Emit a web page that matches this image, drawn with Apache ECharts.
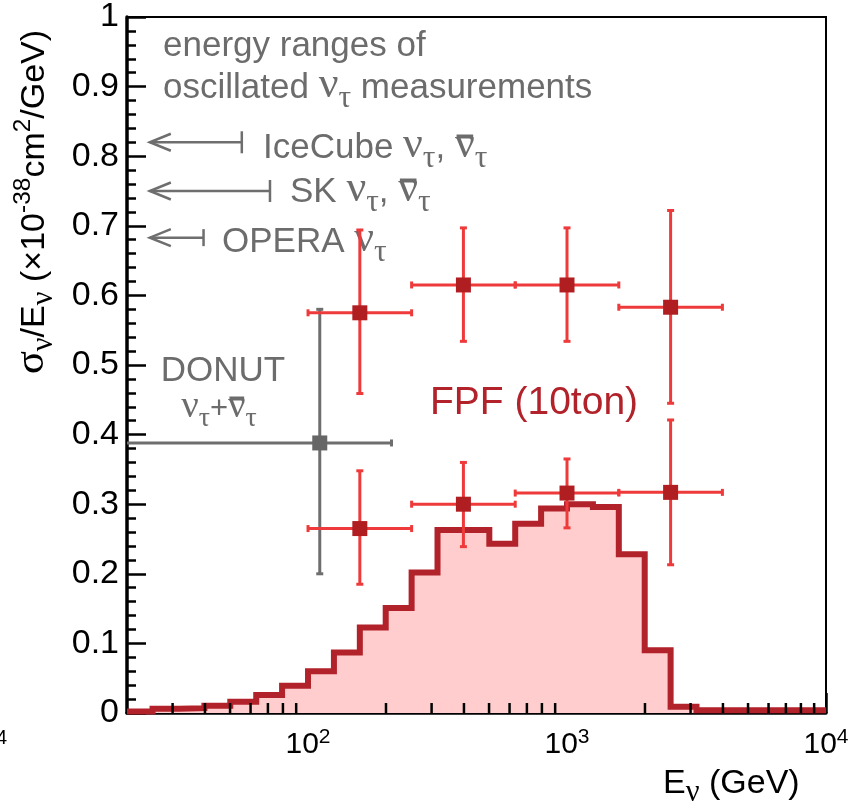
<!DOCTYPE html>
<html>
<head>
<meta charset="utf-8">
<script src="https://cdn.jsdelivr.net/npm/echarts@6/dist/echarts.min.js"></script>
<style>
  html, body { margin: 0; padding: 0; background: #fff; }
  #chart { width: 854px; height: 811px; }
</style>
</head>
<body>
<div id="chart"></div>
<script>
// ---- data -------------------------------------------------------------
// FPF 1mx1m nu_tau spectrum (arbitrary units), log-spaced bins (0.1 decade)
const specEdges = [20, 25.1, 31.6, 39.8, 50.1, 63.1, 79.4, 100, 125.9, 158.5, 199.5,
  251.2, 316.2, 398.1, 501.2, 631.0, 794.3, 1000, 1258.9, 1584.9, 1995.3, 2511.9,
  3162.3, 3981.1, 5011.9, 6309.6, 7943.3, 10000];
const specValues = [0.002, 0.006, 0.007, 0.0105, 0.016, 0.026, 0.039, 0.060, 0.087,
  0.123, 0.151, 0.202, 0.263, 0.263, 0.243, 0.272, 0.294, 0.300, 0.296, 0.228,
  0.090, 0.009, 0.004, 0.004, 0.004, 0.004, 0.004];

// FPF (10ton) projected measurements: energy bin centre, bin low/high edge
const fpfE    = [158.5, 398.1, 1000, 2511.9];
const fpfElo  = [100, 251.2, 631.0, 1584.9];
const fpfEhi  = [251.2, 631.0, 1584.9, 3981.1];
// upper set
const fpfUpVal = [0.575, 0.615, 0.615, 0.583];
const fpfUpLo  = [0.459, 0.534, 0.534, 0.445];
const fpfUpHi  = [0.694, 0.697, 0.697, 0.722];
// lower set
const fpfLoVal = [0.265, 0.300, 0.316, 0.317];
const fpfLoLo  = [0.185, 0.239, 0.266, 0.213];
const fpfLoHi  = [0.348, 0.360, 0.365, 0.421];

// DONUT nu_tau + anti-nu_tau
const donutE = [111];
const donutElo = [20];
const donutEhi = [210];
const donutVal = [0.388];
const donutLo = [0.200];
const donutHi = [0.580];

// energy reach of oscillated nu_tau measurements (arrow tip, arrow end, height)
const rangeNames = ['IceCube', 'SK', 'OPERA'];
const rangeTip = [24.5, 24.5, 24.5];
const rangeEnd = [55.5, 71.3, 39.5];
const rangeY   = [0.820, 0.750, 0.683];

// axis ticks
const xMinorTicks = [30, 40, 50, 60, 70, 80, 90, 200, 300, 400, 500, 600, 700, 800, 900,
  2000, 3000, 4000, 5000, 6000, 7000, 8000, 9000];

// ---- styling ----------------------------------------------------------
const SANS = "'Liberation Sans', Arial, Helvetica, sans-serif";
const GREEK = "'Liberation Serif', 'Times New Roman', serif";
const GREEK_SCALE = 1.25;
const GRAY = '#6c6c6c';
const DARKRED = '#b1222a';
const BARRED = '#ee3a3a';
const MARKRED = '#b01e22';

const measureCtx = document.createElement('canvas').getContext('2d');
function textWidth(t, size, fam) {
  measureCtx.font = size + 'px ' + fam;
  return measureCtx.measureText(t).width;
}

// Lays out a line of text pieces (normal / subscript / superscript / overbar)
// around a baseline at (x, y); returns a graphic group.
function textLine(x, y, segs, size, color, opts) {
  opts = opts || {};
  const children = [];
  let cx = 0;
  segs.forEach(function (s) {
    if (typeof s === 'string') s = { t: s };
    const small = s.sub || s.sup;
    let fs = small ? size * (opts.scriptScale || 0.72) : size;
    if (s.g) fs *= GREEK_SCALE;
    const fam = s.g ? GREEK : SANS;
    const dy = s.sub ? size * 0.26 : (s.sup ? -size * 0.42 : 0);
    const w = textWidth(s.t, fs, fam);
    children.push({
      type: 'text',
      x: cx, y: dy - fs * 0.34,
      style: {
        text: s.t, fill: color, font: fs + 'px ' + fam,
        textAlign: 'left', textVerticalAlign: 'middle'
      }
    });
    if (s.bar) {
      children.push({
        type: 'rect',
        shape: { x: cx + w * 0.08, y: -size * 0.5 - 8, width: w * 0.84, height: 4 },
        style: { fill: color }
      });
    }
    cx += w + (s.gap || 0);
  });
  const shift = opts.align === 'center' ? -cx / 2 : 0;
  children.forEach(function (c) {
    if (c.type === 'text') c.x += shift; else c.shape.x += shift;
  });
  return {
    type: 'group', x: x, y: y, rotation: opts.rotation || 0,
    z: 100, children: children
  };
}

// ---- series data ------------------------------------------------------
const specData = specEdges.map(function (e, i) {
  return [e, i < specValues.length ? specValues[i] : specValues[specValues.length - 1]];
});
const fpfUpData = fpfE.map(function (e, i) { return [e, fpfElo[i], fpfEhi[i], fpfUpVal[i], fpfUpLo[i], fpfUpHi[i]]; });
const fpfLowData = fpfE.map(function (e, i) { return [e, fpfElo[i], fpfEhi[i], fpfLoVal[i], fpfLoLo[i], fpfLoHi[i]]; });
const donutData = donutE.map(function (e, i) { return [e, donutElo[i], donutEhi[i], donutVal[i], donutLo[i], donutHi[i]]; });
const rangeData = rangeNames.map(function (n, i) { return [rangeTip[i], rangeEnd[i], rangeY[i]]; });

function errorBarRenderer(lineColor, markColor, leftCap) {
  return function (params, api) {
    const c = api.coord([api.value(0), api.value(3)]);
    const xl = api.coord([api.value(1), api.value(3)])[0];
    const xh = api.coord([api.value(2), api.value(3)])[0];
    const yl = api.coord([api.value(0), api.value(4)])[1];
    const yh = api.coord([api.value(0), api.value(5)])[1];
    const ls = { stroke: lineColor, lineWidth: 3 };
    const cap = 3.5;
    const kids = [
      { type: 'line', shape: { x1: xl, y1: c[1], x2: xh, y2: c[1] }, style: ls },
      { type: 'line', shape: { x1: c[0], y1: yl, x2: c[0], y2: yh }, style: ls },
      { type: 'line', shape: { x1: xh, y1: c[1] - cap, x2: xh, y2: c[1] + cap }, style: ls },
      { type: 'line', shape: { x1: c[0] - cap, y1: yl, x2: c[0] + cap, y2: yl }, style: ls },
      { type: 'line', shape: { x1: c[0] - cap, y1: yh, x2: c[0] + cap, y2: yh }, style: ls },
      { type: 'rect', shape: { x: c[0] - 7.5, y: c[1] - 7.5, width: 15, height: 15 }, style: { fill: markColor } }
    ];
    if (leftCap) {
      kids.push({ type: 'line', shape: { x1: xl, y1: c[1] - cap, x2: xl, y2: c[1] + cap }, style: ls });
    }
    return { type: 'group', children: kids };
  };
}

const arrowBarHalf = [11, 11, 8.5];

const chart = echarts.init(document.getElementById('chart'), null, { renderer: 'canvas' });

const option = {
  animation: false,
  backgroundColor: '#fff',
  grid: {
    left: 127, right: 28, top: 17, bottom: 98,
    show: true, borderColor: '#000', borderWidth: 2, backgroundColor: 'transparent'
  },
  xAxis: {
    type: 'log', logBase: 10, min: 20, max: 10000,
    axisLine: { lineStyle: { color: '#000', width: 3.5 } },
    axisTick: { inside: true, length: 20, lineStyle: { color: '#000', width: 2.5 } },
    splitLine: { show: false },
    axisLabel: {
      showMinLabel: false,
      margin: 14,
      formatter: function (v) {
        return '{b|10}{s|' + Math.round(Math.log10(v)) + '}';
      },
      rich: {
        b: { fontFamily: SANS, fontSize: 30, color: '#000', lineHeight: 36 },
        s: { fontFamily: SANS, fontSize: 21, color: '#000', verticalAlign: 'top', lineHeight: 21 }
      }
    }
  },
  yAxis: {
    type: 'value', min: 0, max: 1, interval: 0.1,
    axisLine: { show: true, lineStyle: { color: '#000', width: 3.5 } },
    axisTick: { show: true, inside: true, length: 19, lineStyle: { color: '#000', width: 2.5 } },
    minorTick: { show: true, splitNumber: 5, length: 9, lineStyle: { color: '#000', width: 2.5 } },
    splitLine: { show: false },
    minorSplitLine: { show: false },
    axisLabel: { fontFamily: SANS, fontSize: 34, color: '#000', margin: 8 }
  },
  series: [
    {
      name: 'FPF 1mx1m spectrum',
      type: 'line', step: 'end', data: specData, symbol: 'none', z: 2,
      lineStyle: { color: DARKRED, width: 6, join: 'miter' },
      areaStyle: { color: '#ffcdcd', opacity: 1, origin: 'start' }
    },
    {
      name: 'x minor ticks',
      type: 'custom', data: xMinorTicks.map(function (v) { return [v, 0]; }), z: 5,
      encode: { x: 0, y: 1 }, silent: true,
      renderItem: function (params, api) {
        const p = api.coord([api.value(0), 0]);
        return { type: 'line', shape: { x1: p[0], y1: p[1], x2: p[0], y2: p[1] - 10 },
          style: { stroke: '#000', lineWidth: 2.5 } };
      }
    },
    {
      name: 'DONUT',
      type: 'custom', data: donutData, z: 6, clip: true,
      encode: { x: [0, 1, 2], y: [3, 4, 5] },
      renderItem: errorBarRenderer('#6e6e6e', '#666666', false)
    },
    {
      name: 'FPF (10ton) upper',
      type: 'custom', data: fpfUpData, z: 7,
      encode: { x: [0, 1, 2], y: [3, 4, 5] },
      renderItem: errorBarRenderer(BARRED, MARKRED, true)
    },
    {
      name: 'FPF (10ton) lower',
      type: 'custom', data: fpfLowData, z: 7,
      encode: { x: [0, 1, 2], y: [3, 4, 5] },
      renderItem: errorBarRenderer(BARRED, MARKRED, true)
    },
    {
      name: 'oscillation ranges',
      type: 'custom', data: rangeData, z: 6,
      encode: { x: [0, 1], y: 2 },
      renderItem: function (params, api) {
        const tip = api.coord([api.value(0), api.value(2)]);
        const end = api.coord([api.value(1), api.value(2)]);
        const h = arrowBarHalf[params.dataIndex];
        const ls = { stroke: '#6e6e6e', lineWidth: 2.5, fill: null };
        return {
          type: 'group', children: [
            { type: 'line', shape: { x1: tip[0], y1: tip[1], x2: end[0], y2: end[1] }, style: ls },
            { type: 'polyline', shape: { points: [[tip[0] + 21, tip[1] - 8.5], [tip[0], tip[1]], [tip[0] + 21, tip[1] + 8.5]] }, style: ls },
            { type: 'line', shape: { x1: end[0], y1: end[1] - h, x2: end[0], y2: end[1] + h }, style: ls }
          ]
        };
      }
    }
  ],
  graphic: {
    elements: [
      textLine(163, 58, ['energy ranges of'], 35, GRAY),
      textLine(163, 100, ['oscillated ', { t: 'ν', g: true }, { t: 'τ', g: true, sub: true }, ' measurements'], 35, GRAY),
      textLine(263, 160, ['IceCube ', { t: 'ν', g: true }, { t: 'τ', g: true, sub: true }, ', ',
        { t: 'ν', g: true, bar: true }, { t: 'τ', g: true, sub: true }], 35, GRAY),
      textLine(290, 204, ['SK ', { t: 'ν', g: true }, { t: 'τ', g: true, sub: true }, ', ',
        { t: 'ν', g: true, bar: true }, { t: 'τ', g: true, sub: true }], 35, GRAY),
      textLine(222, 254, ['OPERA ', { t: 'ν', g: true }, { t: 'τ', g: true, sub: true }], 35, GRAY),
      textLine(223, 383, ['DONUT'], 35, GRAY, { align: 'center' }),
      textLine(219, 420, [{ t: 'ν', g: true }, { t: 'τ', g: true, sub: true }, '+',
        { t: 'ν', g: true, bar: true }, { t: 'τ', g: true, sub: true }], 31, GRAY, { align: 'center' }),
      textLine(430, 417, ['FPF (10ton)'], 39, DARKRED),
      textLine(413, 645, ['FPF 1mx1m'], 35, DARKRED),
      textLine(387, 680, [{ t: 'ν', g: true }, { t: 'τ', g: true, sub: true }, ' spectrum (a.u.)'], 35, DARKRED),
      textLine(663, 795, ['E', { t: 'ν', g: true, sub: true }, ' (GeV)'], 34, '#000'),
      textLine(46, 202, [{ t: 'σ', g: true }, { t: 'ν', g: true, sub: true }, '/E', { t: 'ν', g: true, sub: true },
        ' (×10', { t: '-38', sup: true }, 'cm', { t: '2', sup: true }, '/GeV)'], 34, '#000',
        { align: 'center', rotation: Math.PI / 2 }),
      {
        type: 'text', x: 7, y: 738, z: 100,
        style: { text: '4', font: '20px ' + SANS, fill: '#000', textAlign: 'right', textVerticalAlign: 'middle' }
      }
    ]
  }
};

chart.setOption(option);
</script>
</body>
</html>
